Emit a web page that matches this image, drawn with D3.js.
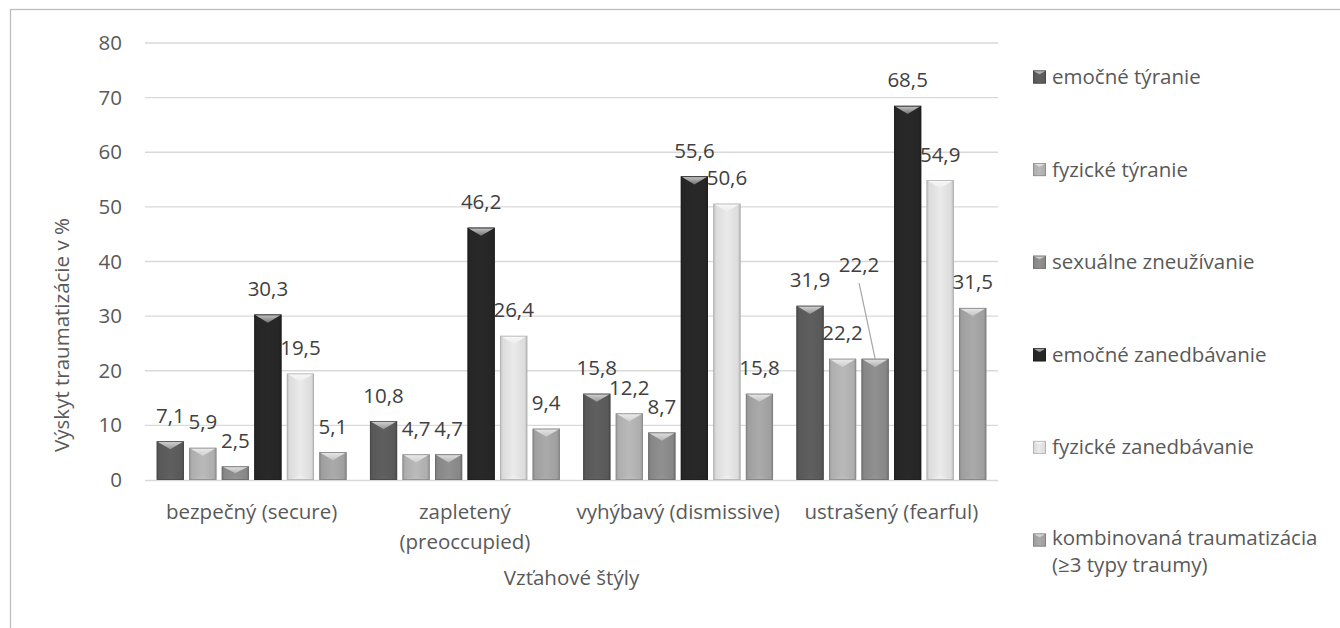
<!DOCTYPE html>
<html lang="sk">
<head>
<meta charset="utf-8">
<script src="https://cdn.jsdelivr.net/npm/d3@7"></script>
<style>
  html, body { margin: 0; padding: 0; background: #fff; }
  svg { display: block; font-family: "Open Sans", "Noto Sans", sans-serif; }
</style>
</head>
<body>
<svg id="chart" width="1340" height="628"></svg>
<script>
// Attachment styles (x categories), one line per entry in each inner array
const categories = [
  ["bezpečný (secure)"],
  ["zapletený", "(preoccupied)"],
  ["vyhýbavý (dismissive)"],
  ["ustrašený (fearful)"]
];

// Trauma types (series), legend lines per entry
const seriesNames = [
  ["emočné týranie"],
  ["fyzické týranie"],
  ["sexuálne zneužívanie"],
  ["emočné zanedbávanie"],
  ["fyzické zanedbávanie"],
  ["kombinovaná traumatizácia", "(≥3 typy traumy)"]
];

// Prevalence in % for each series, in category order
const emocneTyranie       = [7.1, 10.8, 15.8, 31.9];
const fyzickeTyranie      = [5.9, 4.7, 12.2, 22.2];
const sexualneZneuzivanie = [2.5, 4.7, 8.7, 22.2];
const emocneZanedbavanie  = [30.3, 46.2, 55.6, 68.5];
const fyzickeZanedbavanie = [19.5, 26.4, 50.6, 54.9];
const kombinovana         = [5.1, 9.4, 15.8, 31.5];

const yTicks = [0, 10, 20, 30, 40, 50, 60, 70, 80];
const yTitle = "Výskyt traumatizácie v %";
const xTitle = "Vzťahové štýly";

const seriesValues = [emocneTyranie, fyzickeTyranie, sexualneZneuzivanie,
                      emocneZanedbavanie, fyzickeZanedbavanie, kombinovana];

// Gray fills of the series
const fills = ["#5c5c5c", "#b3b3b3", "#8b8b8b", "#272727", "#e2e2e2", "#a4a4a4"];

// One data label was dragged off its bar and gets a leader line: [series, category, dx, dy]
const movedLabels = [[2, 3, -16, -68]];

const FS = 20.5;

const svg = d3.select("#chart");
const W = 1340, H = 628;

// chart frame
svg.append("rect")
  .attr("x", 10.5).attr("y", 9.5)
  .attr("width", W + 20).attr("height", H + 20)
  .attr("fill", "#fff").attr("stroke", "#bdbdbd").attr("stroke-width", 1.3);

const plot = { left: 145, right: 998, top: 43, bottom: 480 };

const x0 = d3.scaleBand()
  .domain(d3.range(categories.length))
  .range([plot.left, plot.right]);

const x1 = d3.scaleBand()
  .domain(d3.range(seriesNames.length))
  .range([0, x0.bandwidth()])
  .paddingInner(0.165)
  .paddingOuter(0.36);

const y = d3.scaleLinear().domain([0, 80]).range([plot.bottom, plot.top]);

// gradients per series
const defs = svg.append("defs");
fills.forEach((c, i) => {
  const base = d3.color(c);
  const g = defs.append("linearGradient")
    .attr("id", "body" + i).attr("x1", "0").attr("x2", "1").attr("y1", "0").attr("y2", "0");
  const stops = [
    [0, base.darker(0.5)],
    [0.1, base.darker(0.08)],
    [0.5, base.brighter(0.1)],
    [0.9, base.darker(0.08)],
    [1, base.darker(0.6)]
  ];
  stops.forEach(([o, col]) => g.append("stop").attr("offset", o).attr("stop-color", col.formatHex()));

  const t = defs.append("linearGradient")
    .attr("id", "top" + i).attr("x1", "0").attr("x2", "0").attr("y1", "0").attr("y2", "1");
  t.append("stop").attr("offset", 0).attr("stop-color", d3.interpolateRgb(c, "#ffffff")(0.75));
  t.append("stop").attr("offset", 1).attr("stop-color", d3.interpolateRgb(c, "#ffffff")(0.35));
});

// gridlines
svg.append("g")
  .selectAll("line")
  .data(yTicks.filter(d => d > 0))
  .join("line")
  .attr("x1", plot.left).attr("x2", plot.right)
  .attr("y1", d => y(d)).attr("y2", d => y(d))
  .attr("stroke", "#d9d9d9").attr("stroke-width", 1.3);

// y tick labels
const yAxis = d3.axisLeft(y).tickValues(yTicks).tickSize(0).tickPadding(23);
const yAxisG = svg.append("g")
  .attr("transform", `translate(${plot.left},0)`)
  .call(yAxis);
yAxisG.select(".domain").remove();
yAxisG.selectAll("text")
  .attr("font-family", "Open Sans, Noto Sans, sans-serif")
  .attr("font-size", FS).attr("fill", "#595959");

// x axis baseline
svg.append("line")
  .attr("x1", plot.left).attr("x2", plot.right)
  .attr("y1", y(0) + 0.5).attr("y2", y(0) + 0.5)
  .attr("stroke", "#d9d9d9").attr("stroke-width", 1.6);

// bars with bevelled tops
function drawBevelBar(g, bx, by, bw, bh, i) {
  const base = d3.color(fills[i]);
  const bevel = Math.min(bw * 0.3, bh / 2);
  g.append("rect")
    .attr("x", bx).attr("y", by).attr("width", bw).attr("height", bh)
    .attr("fill", `url(#body${i})`);
  // top face
  g.append("path")
    .attr("d", `M${bx},${by} L${bx + bw},${by} L${bx + bw / 2},${by + bevel} Z`)
    .attr("fill", `url(#top${i})`);
  // bottom facet
  const bb = Math.min(bevel * 0.6, bh / 3);
  g.append("path")
    .attr("d", `M${bx + 2},${by + bh} L${bx + bw - 2},${by + bh} L${bx + bw / 2},${by + bh - bb} Z`)
    .attr("fill", base.brighter(0.2).formatHex()).attr("opacity", 0.4);
  // outline
  g.append("rect")
    .attr("x", bx + 0.4).attr("y", by + 0.4).attr("width", bw - 0.8).attr("height", bh - 0.8)
    .attr("fill", "none").attr("stroke", base.darker(0.7).formatHex()).attr("stroke-width", 0.8);
}

const barsG = svg.append("g");
seriesValues.forEach((vals, si) => {
  vals.forEach((v, ci) => {
    const bx = x0(ci) + x1(si);
    const by = y(v);
    drawBevelBar(barsG, bx, by, x1.bandwidth(), y(0) - by, si);
  });
});

// data labels
const fmt = v => d3.format(".1f")(v).replace(".", ",");
const leaderG = svg.append("g");
const labelsG = svg.append("g")
  .attr("font-size", FS).attr("fill", "#404040").attr("text-anchor", "middle");
seriesValues.forEach((vals, si) => {
  vals.forEach((v, ci) => {
    const cx = x0(ci) + x1(si) + x1.bandwidth() / 2;
    const ty = y(v) - 18.5;
    const moved = movedLabels.find(m => m[0] === si && m[1] === ci);
    if (moved) {
      const lx = cx + moved[2], ly = ty + moved[3];
      leaderG.append("line")
        .attr("x1", lx).attr("y1", ly + 11)
        .attr("x2", cx).attr("y2", y(v))
        .attr("stroke", "#a6a6a6").attr("stroke-width", 1.2);
      labelsG.append("text").attr("x", lx).attr("y", ly).text(fmt(v));
    } else {
      labelsG.append("text").attr("x", cx).attr("y", ty).text(fmt(v));
    }
  });
});

// category labels
const catG = svg.append("g")
  .attr("font-size", FS).attr("fill", "#595959").attr("text-anchor", "middle");
categories.forEach((lines, ci) => {
  const cx = x0(ci) + x0.bandwidth() / 2;
  const t = catG.append("text").attr("x", cx).attr("y", 519);
  lines.forEach((ln, k) => {
    t.append("tspan").attr("x", cx).attr("dy", k === 0 ? 0 : 30).text(ln);
  });
});

// axis titles
svg.append("text")
  .attr("x", (plot.left + plot.right) / 2).attr("y", 585)
  .attr("text-anchor", "middle").attr("font-size", FS).attr("fill", "#595959")
  .text(xTitle);

svg.append("text")
  .attr("transform", "translate(69,335) rotate(-90)")
  .attr("text-anchor", "middle").attr("font-size", FS).attr("fill", "#595959")
  .text(yTitle);

// legend
const legendY = d3.scalePoint().domain(d3.range(seriesNames.length)).range([77, 540]);
const legG = svg.append("g");
seriesNames.forEach((lines, si) => {
  const cy = legendY(si);
  const ms = 13;
  drawBevelBar(legG, 1033, cy - ms / 2, ms, ms, si);
  lines.forEach((ln, k) => {
    legG.append("text")
      .attr("x", 1052).attr("y", cy + (lines.length > 1 ? 5 : 7) + k * 27)
      .attr("font-size", FS).attr("fill", "#595959")
      .text(ln);
  });
});
</script>
</body>
</html>
